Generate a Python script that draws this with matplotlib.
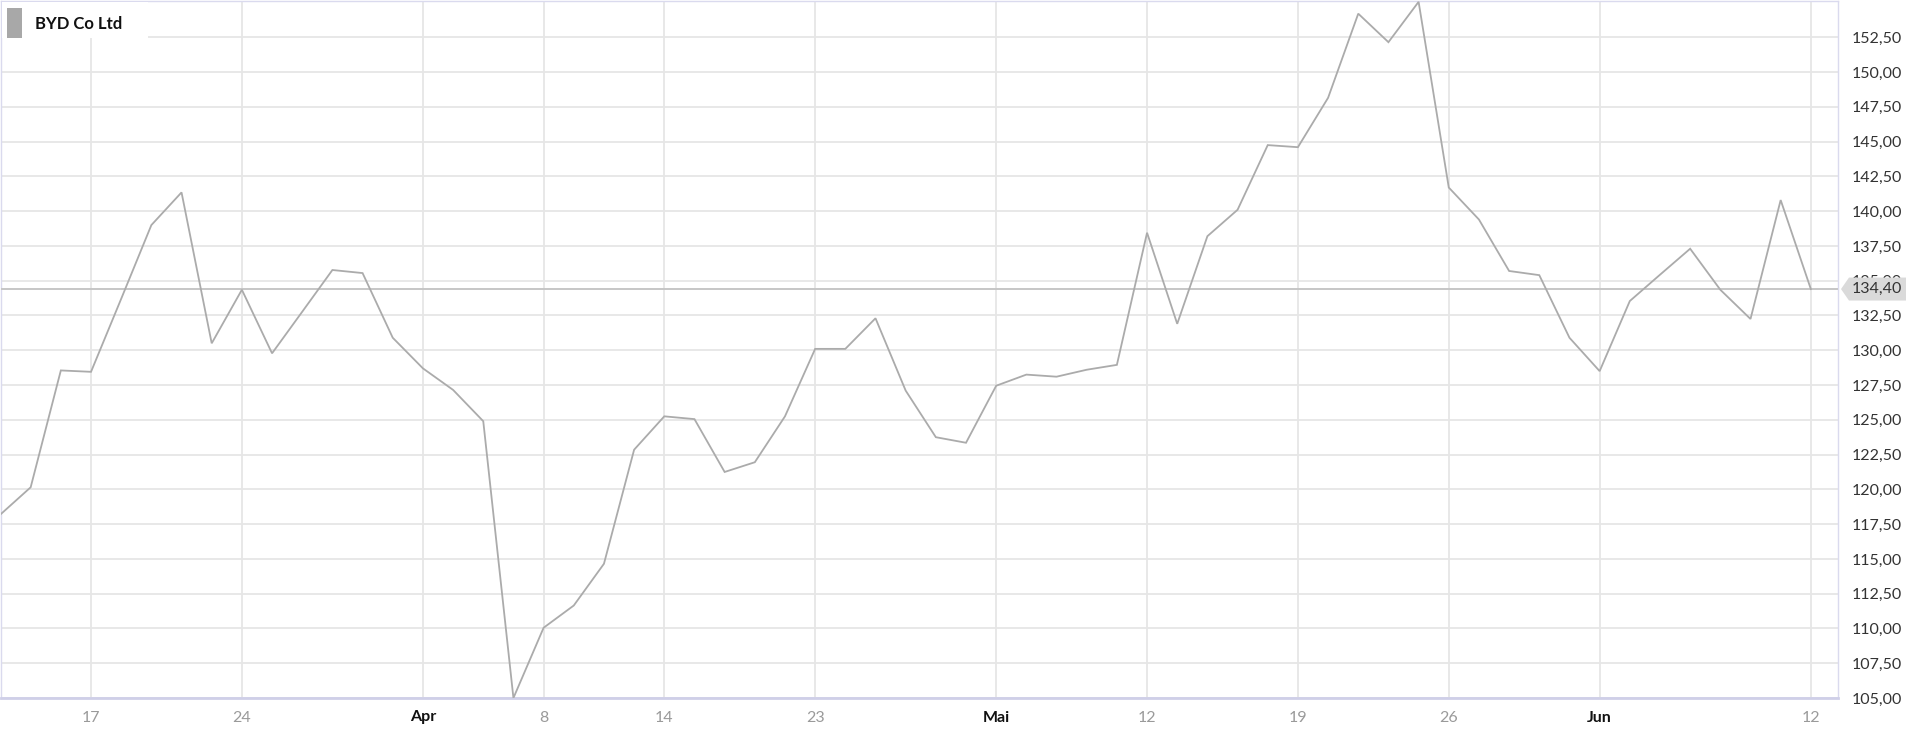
import matplotlib
matplotlib.use("Agg")
import matplotlib.pyplot as plt
import matplotlib.transforms as mtransforms
from matplotlib.patches import Polygon, Rectangle
import numpy as np

plt.rcParams['font.family'] = ['Lato', 'DejaVu Sans']

# ---------------- data ----------------
series_name = "BYD Co Ltd"
dates = [
    "2025-03-12", "2025-03-13", "2025-03-14", "2025-03-17", "2025-03-18",
    "2025-03-19", "2025-03-20", "2025-03-21", "2025-03-24", "2025-03-25",
    "2025-03-26", "2025-03-27", "2025-03-28", "2025-03-31", "2025-04-01",
    "2025-04-02", "2025-04-03", "2025-04-07", "2025-04-08", "2025-04-09",
    "2025-04-10", "2025-04-11", "2025-04-14", "2025-04-15", "2025-04-16",
    "2025-04-17", "2025-04-22", "2025-04-23", "2025-04-24", "2025-04-25",
    "2025-04-28", "2025-04-29", "2025-04-30", "2025-05-02", "2025-05-06",
    "2025-05-07", "2025-05-08", "2025-05-09", "2025-05-12", "2025-05-13",
    "2025-05-14", "2025-05-15", "2025-05-16", "2025-05-19", "2025-05-20",
    "2025-05-21", "2025-05-22", "2025-05-23", "2025-05-26", "2025-05-27",
    "2025-05-28", "2025-05-29", "2025-05-30", "2025-06-02", "2025-06-03",
    "2025-06-04", "2025-06-05", "2025-06-06", "2025-06-09", "2025-06-10",
    "2025-06-12",
]
closes = [
    118.20, 120.15, 128.55, 128.45, 133.70,
    139.00, 141.35, 130.50, 134.35, 129.78,
    132.77, 135.77, 135.55, 130.90, 128.70,
    127.15, 124.90, 105.00, 110.05, 111.65,
    114.65, 122.85, 125.25, 125.05, 121.25,
    121.95, 125.25, 130.10, 130.10, 132.30,
    127.10, 123.75, 123.35, 127.45, 128.25,
    128.10, 128.60, 128.95, 138.45, 131.90,
    138.20, 140.10, 144.75, 144.60, 148.15,
    154.20, 152.15, 155.05, 141.70, 139.40,
    135.70, 135.40, 130.90, 128.50, 133.54,
    135.43, 137.30, 134.35, 132.25, 140.80,
    134.40,
]
tick_dates = ["2025-03-17", "2025-03-24", "2025-04-01", "2025-04-08", "2025-04-14",
              "2025-04-23", "2025-05-02", "2025-05-12", "2025-05-19", "2025-05-26",
              "2025-06-02", "2025-06-12"]
tick_labels = ["17", "24", "Apr", "8", "14", "23", "Mai", "12", "19", "26", "Jun", "12"]
month_labels = ["Apr", "Mai", "Jun"]
y_ticks = [105.0 + 2.5 * k for k in range(20)]
last_value = closes[-1]

# ---------------- figure ----------------
W, H = 1920, 736
fig = plt.figure(figsize=(W / 100, H / 100), dpi=100)
fig.patch.set_facecolor("white")
ax_left, ax_right, ax_top, ax_bottom = 0.5, 1838, 1, 698
ax = fig.add_axes([ax_left / W, (H - ax_bottom) / H, (ax_right - ax_left) / W, (ax_bottom - ax_top) / H])

x = np.arange(len(dates))
ax.plot(x, closes, color="#ababab", lw=1.3, zorder=4, solid_joinstyle="miter")

ax.set_xlim(0, 60.9)
ax.set_ylim(105.0, 155.11)

tick_pos = [dates.index(d) for d in tick_dates]
ax.set_xticks(tick_pos)
ax.set_xticklabels(tick_labels)
for lab in ax.get_xticklabels():
    if lab.get_text() in month_labels:
        lab.set_color("#111111")
        lab.set_fontweight("bold")
    else:
        lab.set_color("#9a9a9a")
    lab.set_fontsize(11.5)

ax.yaxis.tick_right()
ax.set_yticks(y_ticks)
ax.set_yticklabels([f"{v:.2f}".replace(".", ",") for v in y_ticks], fontsize=11.5, color="#333333")
ax.tick_params(axis="y", length=0, pad=10)
ax.tick_params(axis="x", length=0, pad=9)

ax.grid(True, color="#e6e6e6", lw=1.3, zorder=0)
ax.set_axisbelow(True)

for s in ["left", "top", "right"]:
    ax.spines[s].set_color("#dadaee")
    ax.spines[s].set_linewidth(1.0)
ax.spines["bottom"].set_color("#cfcfe8")
ax.spines["bottom"].set_linewidth(2.0)

# current value line
ax.axhline(last_value, color="#c6c6c6", lw=1.4, zorder=3)

# legend block (top-left)
def fx(px):
    return px / W

def fy(py):
    return 1 - py / H

fig.add_artist(Rectangle((fx(1.5), fy(38)), fx(148) - fx(1.5), fy(1.5) - fy(38),
                         transform=fig.transFigure, facecolor="white", edgecolor="none", zorder=2))
fig.add_artist(Rectangle((fx(7), fy(38)), fx(21.5) - fx(7), fy(8) - fy(38),
                         transform=fig.transFigure, facecolor="#a8a8a8", edgecolor="none", zorder=3))
fig.text(fx(35), fy(24), series_name, fontsize=12, fontweight="bold", color="#111111",
         va="center", ha="left", zorder=4)

# current value label box
trans = mtransforms.blended_transform_factory(fig.transFigure, ax.transData)
half = 11.5 / 13.91
box = Polygon([(fx(1841), last_value), (fx(1849), last_value + half), (fx(1906), last_value + half),
               (fx(1906), last_value - half), (fx(1849), last_value - half)],
              closed=True, transform=trans, facecolor="#dadada", edgecolor="none", zorder=5)
fig.add_artist(box)
fig.text(fx(1852), 0, f"{last_value:.2f}".replace(".", ","), transform=trans,
         fontsize=11.5, color="#333333", va="center", ha="left", zorder=6)
fig.texts[-1].set_position((fx(1852), last_value))

fig.savefig("out.png", dpi=100, facecolor="white")
